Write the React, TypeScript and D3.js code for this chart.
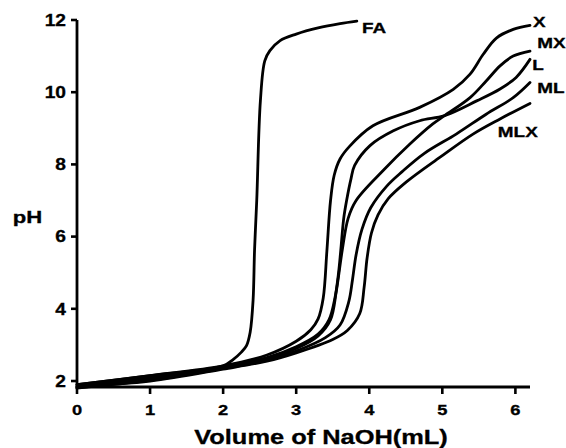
import React from "react";
import * as d3 from "d3";

// ---- data (volume of NaOH in mL, pH) ----
const faVol = [0, 1, 2, 2.14, 2.25, 2.32, 2.37, 2.41, 2.43, 2.46, 2.51, 2.57, 2.64, 2.78, 3.0, 3.3, 3.6, 3.83];
const faPH = [1.9, 2.15, 2.42, 2.6, 2.8, 2.98, 3.35, 4.24, 5.62, 7.0, 9.76, 10.87, 11.15, 11.43, 11.61, 11.78, 11.9, 11.97];

const xVol = [0, 1, 2, 2.6, 3.0, 3.2, 3.3, 3.37, 3.42, 3.47, 3.52, 3.6, 3.73, 4.05, 4.69, 5.15, 5.38, 5.56, 5.74, 5.97, 6.2];
const xPH = [1.9, 2.15, 2.42, 2.72, 3.1, 3.42, 3.72, 4.3, 5.6, 7.0, 7.7, 8.15, 8.5, 9.07, 9.58, 10.08, 10.5, 11.05, 11.5, 11.74, 11.85];

const lVol = [0, 1, 2, 2.6, 3.0, 3.3, 3.45, 3.53, 3.58, 3.61, 3.65, 3.69, 3.75, 3.8, 4.01, 4.33, 4.69, 5.03, 5.47, 5.79, 6.01, 6.2];
const lPH = [1.85, 2.1, 2.4, 2.65, 2.95, 3.3, 3.7, 4.3, 5.0, 5.62, 6.5, 7.0, 7.6, 7.97, 8.52, 8.93, 9.21, 9.35, 9.76, 10.09, 10.41, 10.91];

const mxVol = [0, 1, 2, 2.6, 3.0, 3.3, 3.47, 3.55, 3.63, 3.71, 3.82, 4.19, 4.56, 4.87, 5.03, 5.38, 5.6, 5.79, 5.97, 6.2];
const mxPH = [1.8, 2.05, 2.38, 2.62, 2.9, 3.25, 3.7, 4.5, 5.62, 6.5, 7.0, 7.83, 8.57, 9.12, 9.35, 9.85, 10.31, 10.73, 11.0, 11.14];

const mlVol = [0, 1, 2, 2.6, 3.0, 3.4, 3.6, 3.72, 3.77, 3.82, 3.9, 4.02, 4.24, 4.45, 4.75, 5.19, 5.6, 5.97, 6.2];
const mlPH = [1.82, 2.02, 2.35, 2.58, 2.83, 3.2, 3.55, 4.2, 4.8, 5.5, 6.2, 6.8, 7.4, 7.8, 8.3, 8.84, 9.39, 9.85, 10.27];

const mlxVol = [0, 1, 2, 2.6, 3.0, 3.5, 3.7, 3.87, 3.93, 3.97, 4.03, 4.12, 4.26, 4.5, 4.97, 5.42, 5.79, 6.2];
const mlxPH = [1.85, 2.0, 2.33, 2.55, 2.78, 3.15, 3.4, 3.87, 4.6, 5.4, 6.1, 6.6, 7.05, 7.5, 8.2, 8.84, 9.26, 9.69];

const seriesNames = ["FA", "X", "L", "MX", "ML", "MLX"];
const seriesVol = [faVol, xVol, lVol, mxVol, mlVol, mlxVol];
const seriesPH = [faPH, xPH, lPH, mxPH, mlPH, mlxPH];

// curve label anchors (data units)
const labelText = ["FA", "X", "MX", "L", "ML", "MLX"];
const labelVol = [3.9, 6.24, 6.3, 6.23, 6.3, 5.76];
const labelPH = [11.64, 11.81, 11.22, 10.61, 9.98, 8.76];

const xTicks = [0, 1, 2, 3, 4, 5, 6];
const yTicks = [2, 4, 6, 8, 10, 12];
const xTitle = "Volume of NaOH(mL)";
const yTitle = "pH";

const W = 566;
const H = 448;
const FONT = "'Liberation Sans', Arial, Helvetica, sans-serif";

function SText({ x, y, size, sx, anchor, children }: any) {
  return (
    <text
      transform={`translate(${x},${y}) scale(${sx},1)`}
      textAnchor={anchor}
      fontFamily={FONT}
      fontWeight="bold"
      fontSize={size}
      fill="#000"
      stroke="#000"
      strokeWidth={0.3}
    >
      {children}
    </text>
  );
}

export default function App() {
  const x = d3.scaleLinear().domain([0, 6.2]).range([77, 530]);
  const y = d3.scaleLinear().domain([1.834, 12]).range([387, 20]);

  const line = d3
    .line<[number, number]>()
    .x((d) => x(d[0]))
    .y((d) => y(d[1]))
    .curve(d3.curveCatmullRom.alpha(0.5));

  const x0 = x.range()[0];
  const x1 = x.range()[1];
  const yb = y.range()[0];
  const yt = y.range()[1];

  return (
    <svg
      width={W}
      height={H}
      style={{ position: "absolute", left: 0, top: 0, background: "#fff" }}
    >
      <rect x={0} y={0} width={W} height={H} fill="#fff" />
      {seriesNames.map((n, i) => (
        <path
          key={n}
          d={line(seriesVol[i].map((v, j) => [v, seriesPH[i][j]] as [number, number])) || ""}
          fill="none"
          stroke="#000"
          strokeWidth={2.8}
          strokeLinejoin="round"
          strokeLinecap="round"
        />
      ))}
      {/* axes */}
      <line x1={x0} x2={x1} y1={yb} y2={yb} stroke="#000" strokeWidth={2.8} />
      <line x1={x0} x2={x0} y1={yb + 1.4} y2={yt} stroke="#000" strokeWidth={2.8} />
      {xTicks.map((t) => (
        <g key={"xt" + t}>
          <line x1={x(t)} x2={x(t)} y1={yb} y2={yb + 7} stroke="#000" strokeWidth={2.6} />
          <SText x={x(t)} y={415} size={15} sx={1.22} anchor="middle">
            {t}
          </SText>
        </g>
      ))}
      {yTicks.map((t) => (
        <g key={"yt" + t}>
          <line x1={x0 - 6} x2={x0} y1={y(t)} y2={y(t)} stroke="#000" strokeWidth={2.6} />
          <SText x={66} y={y(t) + 5.8} size={16} sx={1.2} anchor="end">
            {t}
          </SText>
        </g>
      ))}
      <SText x={321} y={444} size={20} sx={1.27} anchor="middle">
        {xTitle}
      </SText>
      <SText x={27.5} y={223} size={17} sx={1.3} anchor="middle">
        {yTitle}
      </SText>
      {labelText.map((t, i) => (
        <SText key={"lb" + t} x={x(labelVol[i])} y={y(labelPH[i])} size={14} sx={1.35} anchor="start">
          {t}
        </SText>
      ))}
    </svg>
  );
}
